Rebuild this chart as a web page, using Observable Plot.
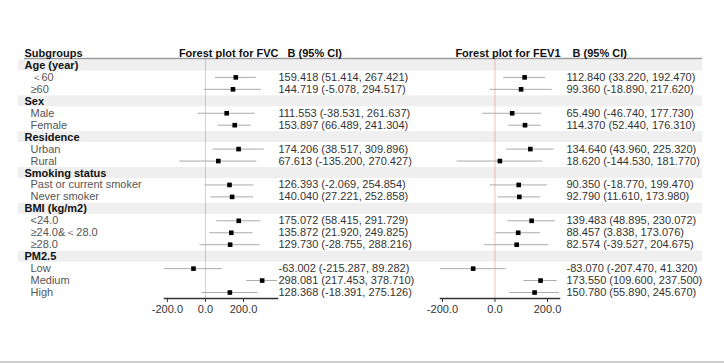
<!DOCTYPE html>
<html>
<head>
<meta charset="utf-8">
<script src="https://cdn.jsdelivr.net/npm/d3@7"></script>
<script src="https://cdn.jsdelivr.net/npm/@observablehq/plot@0.6"></script>
<style>
  body { margin: 0; background: #fff; }
  #chart { position: relative; width: 724px; height: 361px; border-bottom: 2px solid #cfcfcf; }
  #chart svg { position: absolute; left: 0; top: 0; }
</style>
</head>
<body>
<div id="chart"></div>
<script>
// ---- data ----
const subgroupHeader = "Subgroups";
const labels = ["Age (year)", "\uFF1C60", "\u226560", "Sex", "Male", "Female", "Residence", "Urban", "Rural",
  "Smoking status", "Past or current smoker", "Never smoker", "BMI (kg/m2)", "<24.0", "\u226524.0&\uFF1C28.0", "\u226528.0",
  "PM2.5", "Low", "Medium", "High"];
const isGroup = [true, false, false, true, false, false, true, false, false,
  true, false, false, true, false, false, false, true, false, false, false];

const fvcTitle = "Forest plot for FVC";
const fvcB  = [null, 159.418, 144.719, null, 111.553, 153.897, null, 174.206, 67.613, null, 126.393, 140.040, null, 175.072, 135.872, 129.730, null, -63.002, 298.081, 128.368];
const fvcLo = [null, 51.414, -5.078, null, -38.531, 66.489, null, 38.517, -135.200, null, -2.069, 27.221, null, 58.415, 21.920, -28.755, null, -215.287, 217.453, -18.391];
const fvcHi = [null, 267.421, 294.517, null, 261.637, 241.304, null, 309.896, 270.427, null, 254.854, 252.858, null, 291.729, 249.825, 288.216, null, 89.282, 378.710, 275.126];

const fevTitle = "Forest plot for FEV1";
const fevB  = [null, 112.840, 99.360, null, 65.490, 114.370, null, 134.640, 18.620, null, 90.350, 92.790, null, 139.483, 88.457, 82.574, null, -83.070, 173.550, 150.780];
const fevLo = [null, 33.220, -18.890, null, -46.740, 52.440, null, 43.960, -144.530, null, -18.770, 11.610, null, 48.895, 3.838, -39.527, null, -207.470, 109.600, 55.890];
const fevHi = [null, 192.470, 217.620, null, 177.730, 176.310, null, 225.320, 181.770, null, 199.470, 173.980, null, 230.072, 173.076, 204.675, null, 41.320, 237.500, 245.670];

const ciHeader = "B (95% CI)";
const xTicks = [-200, 0, 200];

// ---- layout helpers ----
const W = 724, H = 363, MT = 47, MB = 65;
const font = "'Liberation Sans', Arial, Helvetica, sans-serif";
const yScale = {type: "band", domain: d3.range(labels.length + 1), padding: 0, round: false, axis: null};
const style = {background: "transparent", fontFamily: font, fontSize: "11px", overflow: "visible"};
const rows = labels.map((label, k) => ({i: k + 1, label, group: isGroup[k]}));
const fmt = v => v.toFixed(3);

const chart = document.getElementById("chart");

// background: stripes, header rule, subgroup labels
const bg = Plot.plot({
  width: W, height: H, marginTop: MT, marginBottom: MB, marginLeft: 18, marginRight: 22,
  style, y: yScale,
  marks: [
    Plot.cell(rows.filter(r => r.group), {y: "i", fill: "#efefef", insetTop: 0.5, insetBottom: 0.5}),
    Plot.ruleY([0], {y: d => d, dy: 5, insetLeft: 6, stroke: "#9a9a9a", strokeWidth: 1.5}),
    Plot.text([subgroupHeader], {y: () => 0, frameAnchor: "left", textAnchor: "start", dx: 6, fontWeight: "bold", fill: "#111"}),
    Plot.text(rows.filter(r => r.group), {y: "i", text: "label", frameAnchor: "left", textAnchor: "start", dx: 6, fontWeight: "bold", fill: "#111"}),
    Plot.text(rows.filter(r => !r.group), {y: "i", text: "label", frameAnchor: "left", textAnchor: "start", dx: 12, fill: "#555"})
  ]
});
chart.appendChild(bg);

function forest(B, Lo, Hi, title, ml, mr, valDx, hdrDx) {
  const data = rows.filter(r => !r.group).map(r => ({i: r.i, b: B[r.i - 1], lo: Lo[r.i - 1], hi: Hi[r.i - 1]}));
  return Plot.plot({
    width: W, height: H, marginTop: MT, marginBottom: MB, marginLeft: ml, marginRight: mr,
    style, y: yScale,
    x: {type: "linear"},
    marks: [
      Plot.ruleX([0], {stroke: "#e06060", strokeOpacity: 0.4, strokeWidth: 1, insetTop: 11}),
      Plot.ruleY(data, {y: "i", x1: "lo", x2: "hi", stroke: "#ababab", strokeWidth: 1}),
      Plot.dot(data, {y: "i", x: "b", symbol: "square", r: 2.6, fill: "#000", stroke: "none"}),
      Plot.frame({anchor: "bottom", stroke: "#333", strokeWidth: 1.5}),
      Plot.axisX({ticks: xTicks, tickSize: 4, tickPadding: 3, tickFormat: d => d.toFixed(1), color: "#333", fontSize: 11}),
      Plot.text(data, {y: "i", frameAnchor: "right", textAnchor: "start", dx: valDx, fill: "#333",
        text: d => `${fmt(d.b)} (${fmt(d.lo)}, ${fmt(d.hi)})`}),
      Plot.text([title], {y: () => 0, frameAnchor: "right", textAnchor: "end", dx: 1, fontWeight: "bold", fill: "#111"}),
      Plot.text([ciHeader], {y: () => 0, frameAnchor: "right", textAnchor: "start", dx: hdrDx, fontWeight: "bold", fill: "#111"})
    ]
  });
}

chart.appendChild(forest(fvcB, fvcLo, fvcHi, fvcTitle, 164, W - 277, 1, 10));
chart.appendChild(forest(fevB, fevLo, fevHi, fevTitle, 440, W - 559, 7, 13));
</script>
</body>
</html>
